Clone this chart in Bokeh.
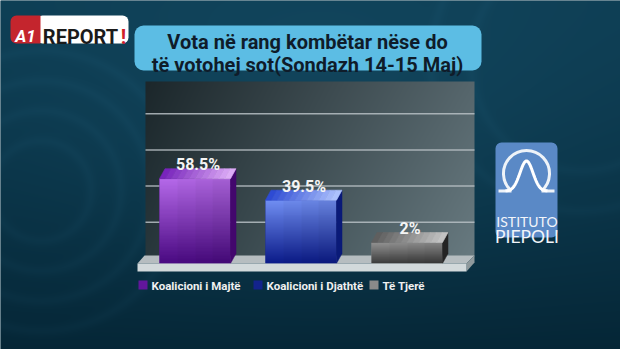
import numpy as np
from bokeh.plotting import figure
from bokeh.models import Range1d, BoxAnnotation
from bokeh.embed import file_html
from bokeh.resources import INLINE
from bokeh.core.properties import value

# ---------------- data ----------------
title_lines = ["Vota në rang kombëtar nëse do", "të votohej sot(Sondazh 14-15 Maj)"]
categories = ["Koalicioni i Majtë", "Koalicioni i Djathtë", "Të Tjerë"]
values = [58.5, 39.5, 2.0]
value_labels = ["58.5%", "39.5%", "2%"]
grid_values = [20, 52, 84, 116]
logo_lines = ["ISTITUTO", "PIEPOLI"]

# ---------------- styles ----------------
front_top = [(182, 106, 234), (112, 142, 242), (150, 150, 150)]
front_bottom = [(74, 10, 130), (12, 28, 138), (60, 60, 60)]
top_left_c = [(115, 30, 185), (40, 70, 210), (90, 90, 90)]
top_right_c = [(226, 178, 250), (178, 198, 255), (200, 200, 200)]
side_c = ["#43076d", "#0a1a78", "#242424"]
legend_c = ["#62169c", "#13238c", "#8a8a8a"]
FONT = "Roboto"

W, H = 620, 349
K = 1.13          # px per value unit
ZERO_UP = 104.7   # px above canvas bottom where value 0 sits
SP = 106.0        # px between bar centres
X0 = 194.5        # px of first bar centre
BASE = (86 - ZERO_UP) / K
BW = 0.67
DX_PX, DY_PX = 5.5, 10.0
dx = DX_PX / SP
dy = DY_PX / K


def Y(t):
    return H - t


def to_img(a):
    a = np.ascontiguousarray(a.astype(np.uint8))
    return a.view(np.uint32).reshape(a.shape[0], a.shape[1])


p = figure(width=W, height=H, x_range=Range1d(0, W), y_range=Range1d(0, H),
           output_backend="svg", toolbar_location=None, min_border=0,
           x_axis_location=None, y_axis_location=None)
p.grid.visible = False
p.outline_line_color = None
p.background_fill_color = "#0c3a4e"
p.border_fill_color = "#0c3a4e"
p.extra_y_ranges = {"val": Range1d(-ZERO_UP / K, (H - ZERO_UP) / K)}
p.extra_x_ranges = {"bx": Range1d(-X0 / SP, (W - X0) / SP)}

# ---------------- background ----------------
yy, xx = np.mgrid[0:H, 0:W].astype(float)
ytop = H - 1 - yy
top = np.array([14, 62, 84], float)
bot = np.array([5, 38, 54], float)
f = (ytop / H) ** 1.3
bg = top[None, None, :] * (1 - f[..., None]) + bot[None, None, :] * f[..., None]
for cx, cy, rads, amp in [(40, 190, [50, 80, 110, 140], 4.5), (580, 60, [110, 150], 4)]:
    d = np.hypot(xx - cx, ytop - cy)
    for r in rads:
        ring = np.exp(-((d - r) / 6.0) ** 2) * amp
        bg += ring[..., None] * np.array([0.6, 1.0, 1.2])
glow = np.exp(-(((xx - 320) / 260) ** 2 + ((ytop - 120) / 160) ** 2)) * 10
bg += glow[..., None] * np.array([0.5, 1.0, 1.2])
bg = np.clip(bg, 0, 255)
bga = np.dstack([bg, np.full((H, W), 255.0)])
r_bg = p.image_rgba(image=[to_img(bga)], x=0, y=0, dw=W, dh=H)
r_bg.level = "image"

# ---------------- panel ----------------
PL, PR, PT, PB = 145, 474, 81, 256
ph, pw = PB - PT, PR - PL
py, px = np.mgrid[0:ph, 0:pw].astype(float)
fy = 1 - py / (ph - 1)
fx = px / (pw - 1)
c_tl = np.array([28, 39, 43.]); c_bl = np.array([40, 55, 60.])
c_tr = np.array([86, 102, 108.]); c_br = np.array([104, 122, 128.])
lt = c_tl * (1 - fy[..., None]) + c_bl * fy[..., None]
rt = c_tr * (1 - fy[..., None]) + c_br * fy[..., None]
pc = lt * (1 - fx[..., None]) + rt * fx[..., None]
pa = np.dstack([pc, np.full((ph, pw), 255.0)])
p.image_rgba(image=[to_img(pa)], x=PL, y=Y(PB), dw=pw, dh=ph)

# grid lines
p.segment(x0=PL, x1=PR, y0=grid_values, y1=grid_values, y_range_name="val",
          line_color="#b7c0c4", line_width=1.5, line_alpha=0.85)

# floor
p.patch(x=[144, 474, 466, 137], y=[Y(255), Y(255), Y(263), Y(263)],
        fill_color="#b6bdc0", line_color=None)
p.patch(x=[466, 474, 474, 466], y=[Y(263), Y(255), Y(262), Y(271)],
        fill_color="#8f999c", line_color=None)

# ---------------- bars ----------------
idx = list(range(len(values)))
p.vbar(x=idx, top=values, bottom=BASE, width=BW, x_range_name="bx",
       y_range_name="val", fill_color=legend_c, line_color=None)

imgs, bxs, bys, bdh = [], [], [], []
N = 64
for i, v in enumerate(values):
    t = np.linspace(0, 1, N)[:, None]
    c = np.array(front_bottom[i], float)[None, :] * (1 - t) + np.array(front_top[i], float)[None, :] * t
    arr = np.zeros((N, 4, 4))
    for j in range(4):
        arr[:, j, :3] = c * (1.0 - 0.03 * j)
    arr[:, :, 3] = 255
    imgs.append(to_img(arr))
    bxs.append(i - BW / 2)
    bys.append(BASE)
    bdh.append(v - BASE)
p.image_rgba(image=imgs, x=bxs, y=bys, dw=[BW] * len(values), dh=bdh,
             x_range_name="bx", y_range_name="val")

# side faces
sx, sy = [], []
for i, v in enumerate(values):
    xr = i + BW / 2
    sx.append([xr, xr + dx, xr + dx, xr])
    sy.append([BASE, BASE + dy, v + dy, v])
p.patches(xs=sx, ys=sy, fill_color=side_c, line_color=side_c, line_width=0.5,
          x_range_name="bx", y_range_name="val")

# top faces (horizontal gradient as slices)
tx, ty, tc = [], [], []
NS = 12
for i, v in enumerate(values):
    cl = np.array(top_left_c[i], float)
    cr = np.array(top_right_c[i], float)
    for j in range(NS):
        a0 = i - BW / 2 + BW * j / NS
        a1 = i - BW / 2 + BW * (j + 1) / NS
        tx.append([a0, a1, a1 + dx, a0 + dx])
        ty.append([v, v, v + dy, v + dy])
        c = cl + (cr - cl) * (j + 0.5) / NS
        tc.append("#%02x%02x%02x" % tuple(int(round(q)) for q in c))
p.patches(xs=tx, ys=ty, fill_color=tc, line_color=tc, line_width=0.6,
          x_range_name="bx", y_range_name="val")

# floor front face
p.patch(x=[137, 466, 466, 137], y=[Y(263), Y(263), Y(271), Y(271)],
        fill_color="#d2d9db", line_color=None)

# value labels
p.text(x=idx, y=values, text=value_labels, x_range_name="bx", y_range_name="val",
       x_offset=3, y_offset=-(DY_PX + 4), text_align="center", text_baseline="alphabetic",
       text_font=value(FONT), text_font_style="bold", text_font_size="16px",
       text_color="#f4f4f4")

# ---------------- legend ----------------
legend_x = [138, 253, 369]
p.rect(x=[lx + 4.5 for lx in legend_x], y=[Y(284.5)] * 3, width=9, height=9,
       fill_color=legend_c, line_color=None)
p.text(x=[lx + 13 for lx in legend_x], y=[Y(285)] * 3, text=categories,
       text_align="left", text_baseline="middle", text_font=value(FONT),
       text_font_style="bold", text_font_size="11.5px", text_color="#f0f0f0")

# ---------------- title ----------------
tb = BoxAnnotation(left=134, right=481, top=Y(25), bottom=Y(70), fill_color="#5cbde4",
                   fill_alpha=1, line_color=None, border_radius=9, level="underlay")
p.add_layout(tb)
p.text(x=[307, 307], y=[Y(41), Y(64)], text=title_lines, text_align="center",
       text_baseline="alphabetic", text_font=value(FONT), text_font_style="bold",
       text_font_size="20px", text_color="#0f1c2a")

# ---------------- A1 REPORT logo ----------------
wb = BoxAnnotation(left=36, right=128, top=Y(15), bottom=Y(43), fill_color="#ffffff",
                   fill_alpha=1, line_color=None, border_radius=6, level="underlay")
rb = BoxAnnotation(left=10, right=40, top=Y(15), bottom=Y(43), fill_color="#c4252d",
                   fill_alpha=1, line_color=None, border_radius=(6, 0, 0, 6), level="underlay")
p.add_layout(wb)
p.add_layout(rb)
p.text(x=[25], y=[Y(35.5)], text=["A1"], text_align="center", text_baseline="alphabetic",
       text_font=value(FONT), text_font_style="bold italic", text_font_size="17px",
       text_color="#ffffff")
p.text(x=[80], y=[Y(36)], text=["REPORT"], text_align="center", text_baseline="alphabetic",
       text_font=value(FONT), text_font_style="bold", text_font_size="20px",
       text_color="#1b1b1b")
p.text(x=[123], y=[Y(36)], text=["!"], text_align="center", text_baseline="alphabetic",
       text_font=value(FONT), text_font_style="bold", text_font_size="20px",
       text_color="#d0202a")

# ---------------- Piepoli logo ----------------
lb = BoxAnnotation(left=495, right=557, top=Y(142), bottom=Y(237), fill_color="#5a89c6",
                   fill_alpha=1, line_color=None, border_radius=6, level="underlay")
p.add_layout(lb)
p.arc(x=[526], y=[Y(173)], radius=23, start_angle=np.radians(-49), end_angle=np.radians(229),
      direction="anticlock", line_color="#eef3f8", line_width=3)
p.segment(x0=[498, 541], x1=[511, 554], y0=[Y(190.5)] * 2, y1=[Y(190.5)] * 2,
          line_color="#eef3f8", line_width=3)
bx_ = np.linspace(505, 547, 80)
by_ = 190.5 - 30 * np.exp(-((bx_ - 526) ** 2) / (2 * 6.5 ** 2))
p.line(x=bx_, y=Y(by_), line_color="#ffffff", line_width=3)
p.text(x=[526.5, 526.5], y=[Y(220.5), Y(235.5)], text=logo_lines, text_align="center",
       text_baseline="alphabetic", text_font=value("Lato"),
       text_font_size=["14px", "17.5px"], text_color="#f2f5fa")

open("out.html", "w").write(file_html(p, INLINE))
